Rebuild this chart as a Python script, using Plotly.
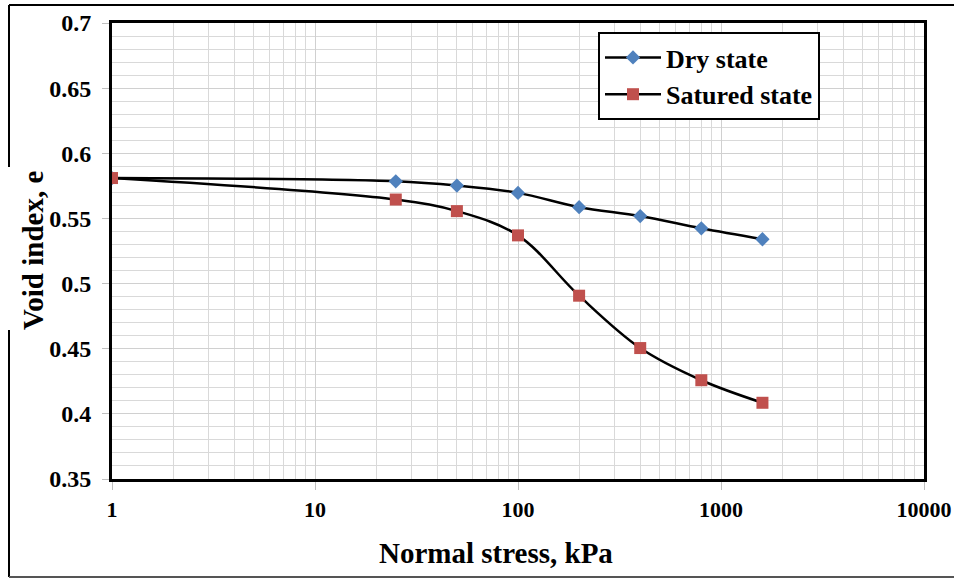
import plotly.graph_objects as go

# ---- data ----
stress = [1, 25, 50, 100, 200, 400, 800, 1600]
dry_state = [0.581, 0.5785, 0.5752, 0.5696, 0.5586, 0.5518, 0.5424, 0.534]
satured_state = [0.581, 0.5645, 0.5556, 0.537, 0.4907, 0.4505, 0.4258, 0.4085]
x_tickvals = [1, 10, 100, 1000, 10000]
x_ticktext = ["1", "10", "100", "1000", "10000"]
x_minor = [m * 10 ** d for d in range(4) for m in range(2, 10)]

FONT = "Liberation Serif, Times New Roman, serif"

fig = go.Figure()
fig.add_trace(go.Scatter(
    x=stress, y=dry_state, name="Dry state", mode="lines+markers",
    line=dict(color="black", width=2.5, shape="spline"),
    marker=dict(symbol="diamond", size=11, color="#4f81bd"),
))
fig.add_trace(go.Scatter(
    x=stress, y=satured_state, name="Satured state", mode="lines+markers",
    line=dict(color="black", width=2.5, shape="spline"),
    marker=dict(symbol="square", size=12, color="#c0504d"),
))

L, R, T, B = 112, 30, 23, 103
W, H = 954, 582
pw, ph = W - L - R, H - T - B

def px(x):
    return (x - L) / pw

def py(y):
    return (H - B - y) / ph

shapes = []
# outer frame of the picture (top, left with gap, bottom)
for (x0, y0, x1, y1, c) in [
    (9, 5, 960, 5, "black"),
    (9, 5, 9, 167, "black"),
    (9, 330, 9, 577, "black"),
    (9, 577, 960, 577, "#555555"),
]:
    shapes.append(dict(type="line", xref="paper", yref="paper",
                       x0=px(x0), y0=py(y0), x1=px(x1), y1=py(y1),
                       line=dict(color=c, width=2)))

annotations = [
    dict(text="Normal stress, kPa", xref="paper", yref="paper",
         x=px(496), y=py(553), xanchor="center", yanchor="middle",
         showarrow=False, font=dict(family=FONT, size=29, color="black", weight="bold")),
    dict(text="Void index, e", xref="paper", yref="paper", textangle=-90,
         x=px(33), y=py(251), xanchor="center", yanchor="middle",
         showarrow=False, font=dict(family=FONT, size=29, color="black", weight="bold")),
]

fig.update_layout(
    width=W, height=H,
    margin=dict(l=L, r=R, t=T, b=B),
    paper_bgcolor="white", plot_bgcolor="white",
    font=dict(family=FONT, color="black", size=24, weight="bold"),
    showlegend=True,
    legend=dict(
        x=px(598), y=py(32), xanchor="left", yanchor="top",
        bordercolor="black", borderwidth=2, bgcolor="white",
        font=dict(family=FONT, size=26, color="black", weight="bold"),
        itemwidth=56, tracegroupgap=0,
    ),
    xaxis=dict(
        type="log", range=[0, 4],
        tickvals=x_tickvals, ticktext=x_ticktext,
        ticks="outside", ticklen=8, tickwidth=1, tickcolor="#bfbfbf",
        ticklabelstandoff=1, ticklabeloverflow="allow",
        showgrid=True, gridcolor="#d0d0d0", gridwidth=1.3,
        minor=dict(tickvals=x_minor, showgrid=True, gridcolor="#d9d9d9",
                   gridwidth=1.3, ticks=""),
        showline=True, linecolor="black", linewidth=3, mirror=True,
        zeroline=False, automargin=False,
        tickfont=dict(size=22),
    ),
    yaxis=dict(
        range=[0.35, 0.7], dtick=0.05, tick0=0.35,
        ticks="outside", ticklen=7, tickwidth=1, tickcolor="#bfbfbf",
        ticklabelstandoff=6,
        showgrid=True, gridcolor="#d0d0d0", gridwidth=1.3,
        minor=dict(dtick=0.01, showgrid=True, gridcolor="#d9d9d9",
                   gridwidth=1.3, ticks=""),
        showline=True, linecolor="black", linewidth=3, mirror=True,
        zeroline=False, automargin=False,
        tickfont=dict(size=24),
    ),
    shapes=shapes,
    annotations=annotations,
)

fig.write_html("out.html")
